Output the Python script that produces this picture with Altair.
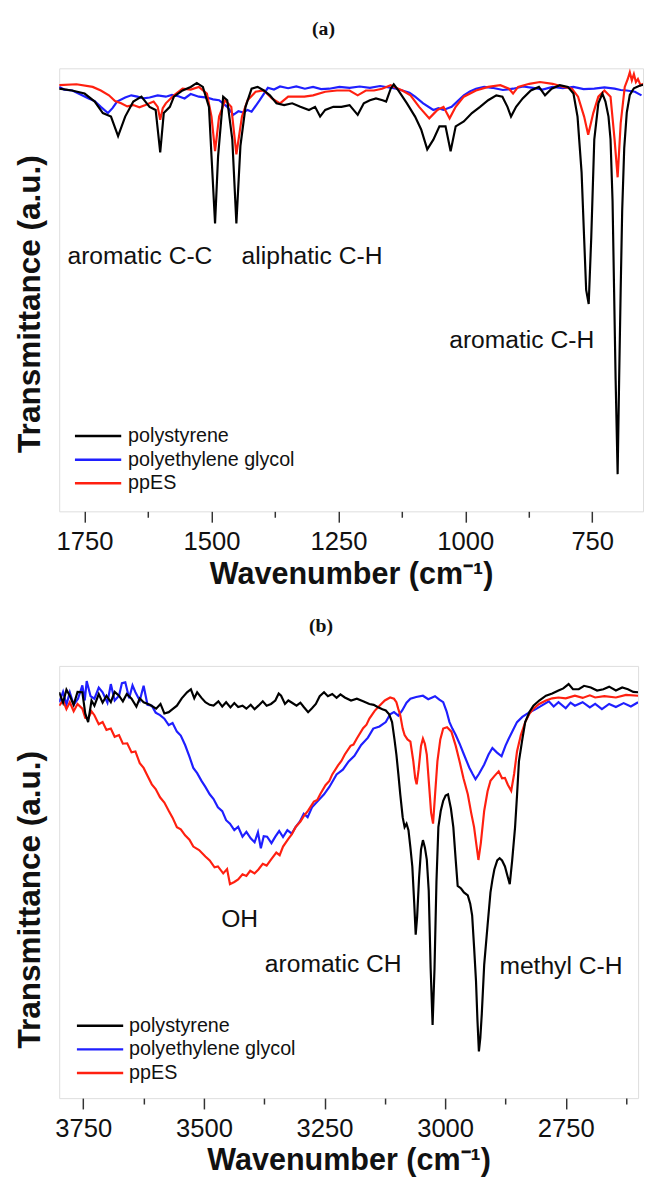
import altair as alt
import pandas as pd

SERIES = ["polystyrene", "polyethylene glycol", "ppES"]
COLORS = ["#000000", "#1f1fff", "#ff2010"]

# ---------------- panel (a): 1800-650 cm-1 ----------------
a_ps_wn = [1800, 1775, 1750, 1730, 1714, 1698, 1684, 1670, 1654, 1638, 1622, 1610, 1601, 1594, 1582,
           1574, 1557, 1541, 1529, 1517, 1505, 1500, 1493, 1487, 1477, 1469, 1459, 1451, 1443, 1433,
           1421, 1409, 1397, 1385, 1372, 1357, 1341, 1325, 1308, 1296, 1286, 1276, 1260, 1244, 1228,
           1212, 1200, 1188, 1176, 1163, 1156, 1147, 1141, 1132, 1115, 1099, 1087, 1075, 1063, 1051,
           1039, 1029, 1019, 1003, 987, 971, 955, 939, 927, 917, 910, 900, 887, 871, 855, 843, 830,
           814, 798, 787, 779, 771, 766, 762, 757, 752, 746, 738, 730, 724, 718, 714, 710, 707, 704,
           700, 697, 694, 691, 687, 682, 676, 668, 658, 650]
a_ps_t = [95.4, 95.0, 94.3, 92.5, 89.9, 89.1, 84.7, 89.1, 92.5, 93.6, 91.3, 90.6, 81.0, 89.9, 91.3,
          93.6, 95.0, 95.8, 96.7, 95.8, 91.3, 80.2, 65.0, 80.2, 93.6, 92.8, 83.9, 65.0, 82.5, 91.3,
          95.4, 95.8, 95.0, 93.9, 92.1, 91.7, 92.1, 91.3, 90.6, 91.3, 89.1, 90.6, 91.3, 91.3, 91.7,
          89.5, 92.1, 92.8, 93.2, 92.8, 92.5, 95.4, 96.4, 95.0, 92.1, 89.1, 86.2, 81.7, 83.9, 86.9,
          86.9, 81.3, 86.9, 88.0, 89.9, 91.3, 92.8, 93.9, 93.6, 91.3, 89.1, 91.3, 93.2, 95.0, 95.8, 93.9, 95.4,
          96.2, 95.8, 94.3, 89.1, 76.5, 61.7, 50.0, 46.8, 61.7, 83.9, 92.1, 94.3, 92.5, 89.1, 84.0, 70.0, 50.0, 30.0,
          8.4, 30.0, 50.0, 68.0, 82.0, 90.0, 94.0, 95.5, 96.0, 96.3]

a_peg_wn = [1800, 1790, 1774, 1760, 1742, 1730, 1718, 1704, 1695, 1686, 1670, 1658, 1646, 1634, 1622, 1606,
            1590, 1578, 1565, 1553, 1541, 1525, 1509, 1497, 1485, 1469, 1457, 1447, 1437, 1429, 1421, 1405,
            1389, 1377, 1365, 1349, 1333, 1316, 1300, 1284, 1268, 1248, 1228, 1208, 1188, 1168, 1147, 1136,
            1124, 1110, 1099, 1083, 1063, 1053, 1043, 1027, 1015, 1003, 991, 979, 963, 947, 926, 906, 886,
            867, 848, 828, 808, 787, 767, 746, 726, 706, 694, 682, 666, 653]
a_peg_t = [95.8, 95.2, 95.0, 94.2, 93.2, 92.6, 91.3, 89.9, 91.0, 92.5, 93.4, 93.9, 93.6, 93.2, 93.4, 93.9,
           93.6, 94.0, 93.7, 93.2, 94.2, 93.6, 93.4, 93.0, 92.8, 91.3, 89.5, 90.3, 90.0, 90.6, 90.2, 92.8,
           95.6, 95.2, 95.9, 95.5, 95.9, 95.4, 95.8, 95.3, 95.4, 95.8, 95.6, 95.9, 95.6, 96.0, 95.6, 95.4,
           95.0, 94.5, 93.6, 92.1, 90.6, 91.0, 90.6, 91.3, 92.6, 93.9, 94.8, 95.4, 95.8, 95.6, 95.1, 95.4, 95.9,
           95.6, 95.2, 95.8, 95.5, 95.8, 95.3, 95.4, 95.7, 95.4, 95.1, 95.0, 94.7, 93.9]

a_pp_wn = [1800, 1766, 1734, 1718, 1702, 1690, 1678, 1666, 1654, 1642, 1630, 1614, 1606, 1601, 1596, 1590,
           1574, 1557, 1541, 1525, 1509, 1500, 1493, 1485, 1473, 1461, 1451, 1440, 1429, 1413, 1397, 1381,
           1365, 1349, 1333, 1317, 1300, 1276, 1253, 1228, 1212, 1196, 1180, 1164, 1147, 1140, 1124, 1108,
           1091, 1071, 1055, 1043, 1031, 1019, 1003, 979, 955, 931, 914, 906, 896, 874, 853, 828, 806, 790,
           778, 766, 758, 748, 738, 726, 714, 706, 700, 694, 686, 680, 676, 672, 668, 664, 660, 655, 650]
a_pp_t = [96.2, 96.4, 95.8, 95.0, 93.9, 92.6, 92.1, 91.4, 91.7, 91.2, 91.7, 92.5, 91.3, 88.4, 91.0, 92.1,
          93.9, 95.4, 95.2, 95.8, 94.3, 89.1, 81.3, 89.1, 92.8, 91.3, 80.6, 89.1, 92.8, 94.7, 95.0, 93.2,
          92.1, 93.6, 93.6, 93.6, 93.9, 94.7, 95.0, 95.0, 93.9, 95.0, 95.0, 95.4, 96.2, 95.8, 95.0, 93.9,
          91.3, 88.7, 90.6, 91.3, 88.7, 91.3, 93.6, 95.0, 95.8, 96.2, 95.4, 94.3, 95.8, 96.5, 96.9, 96.5, 95.8, 95.4,
          93.6, 89.1, 85.0, 89.9, 93.6, 95.0, 93.6, 83.9, 75.4, 87.6, 95.8, 97.6, 99.1, 97.3, 98.7, 96.9, 97.6, 96.2, 96.5]

a_ann_label = ["aromatic C-C", "aliphatic C-H", "aromatic C-H"]
a_ann_wn = [1641, 1302, 889]
a_ann_t = [57.6, 57.6, 38.7]

# ---------------- panel (b): 3800-2600 cm-1 ----------------
b_ps_wn = [3800, 3792, 3785, 3778, 3770, 3762, 3752, 3746, 3740, 3733, 3727, 3718, 3710, 3702, 3693, 3685,
           3676, 3668, 3660, 3650, 3640, 3633, 3625, 3612, 3599, 3590, 3582, 3573, 3565, 3556, 3546, 3535,
           3527, 3520, 3514, 3505, 3497, 3488, 3480, 3470, 3462, 3454, 3445, 3437, 3429, 3420, 3412, 3403,
           3395, 3387, 3378, 3370, 3361, 3352, 3345, 3340, 3332, 3325, 3319, 3308, 3300, 3293, 3284, 3276,
           3268, 3260, 3251, 3243, 3234, 3225, 3217, 3208, 3195, 3183, 3170, 3157, 3148, 3140, 3130, 3123,
           3116, 3110, 3105, 3101, 3097, 3093, 3088, 3084, 3080, 3076, 3072, 3068, 3064, 3061, 3058, 3054,
           3050, 3046, 3042, 3038, 3034, 3030, 3026, 3022, 3018, 3014, 3009, 3004, 2999, 2994, 2988, 2983,
           2978, 2974, 2967, 2961, 2953, 2948, 2944, 2940, 2936, 2933, 2930, 2927, 2924, 2919, 2912, 2906,
           2902, 2898, 2892, 2887, 2882, 2876, 2871, 2866, 2861, 2855, 2851, 2847, 2840, 2834, 2825, 2817,
           2805, 2791, 2778, 2765, 2755, 2744, 2735, 2723, 2712, 2698, 2685, 2672, 2660, 2646, 2633, 2621,
           2610, 2600]
b_ps_t = [93.9, 91.5, 94.5, 93.1, 91.0, 94.0, 93.9, 89.0, 87.0, 92.0, 90.8, 93.5, 91.5, 93.1, 91.6, 94.0,
          93.1, 91.8, 93.5, 92.4, 90.6, 92.5, 91.6, 91.0, 90.1, 91.2, 89.0, 89.3, 90.0, 90.8, 92.5, 93.9,
          94.6, 92.5, 93.9, 92.6, 91.6, 91.0, 90.8, 91.8, 90.6, 91.6, 90.4, 91.4, 90.5, 90.8, 90.1, 91.0,
          90.0, 90.8, 91.8, 90.8, 91.2, 92.0, 93.6, 93.1, 91.2, 92.0, 91.6, 90.8, 91.5, 90.5, 89.3, 90.2,
          91.2, 93.0, 93.9, 93.0, 93.5, 92.6, 93.4, 92.7, 92.0, 92.4, 91.8, 91.2, 91.0, 90.5, 90.0, 89.7,
          88.8, 87.0, 83.0, 79.5, 75.0, 70.3, 65.0, 62.7, 63.5, 62.0, 58.0, 53.6, 45.0, 37.8, 42.0, 51.0,
          57.5, 59.7, 58.0, 55.2, 48.0, 30.0, 16.9, 30.0, 50.0, 62.7, 66.5, 68.8, 70.0, 70.3, 67.0, 62.7,
          55.0, 49.1, 48.5, 47.6, 46.9, 45.0, 42.3, 35.0, 27.1, 18.0, 10.8, 14.0, 19.5, 30.9, 40.0, 47.6,
          50.5, 52.9, 55.0, 55.5, 55.0, 53.6, 51.5, 49.5, 55.0, 62.7, 70.0, 77.9, 83.0, 87.0, 89.4, 90.8,
          92.0, 93.1, 93.6, 94.3, 94.8, 95.8, 94.6, 94.6, 95.4, 95.0, 94.3, 94.6, 95.2, 94.3, 95.0, 94.6,
          94.0, 93.9]

b_peg_wn = [3800, 3792, 3785, 3778, 3770, 3761, 3752, 3747, 3743, 3735, 3727, 3718, 3710, 3700, 3693, 3685,
            3676, 3670, 3663, 3655, 3648, 3642, 3633, 3625, 3617, 3608, 3600, 3591, 3582, 3573, 3565, 3556,
            3548, 3539, 3530, 3522, 3514, 3505, 3497, 3488, 3480, 3471, 3462, 3454, 3446, 3437, 3429, 3420,
            3412, 3403, 3395, 3388, 3382, 3376, 3369, 3360, 3352, 3344, 3336, 3327, 3318, 3310, 3301, 3293,
            3285, 3276, 3265, 3251, 3240, 3225, 3212, 3200, 3188, 3174, 3160, 3149, 3136, 3123, 3114, 3106,
            3097, 3089, 3080, 3072, 3060, 3046, 3035, 3021, 3012, 3004, 2997, 2991, 2985, 2978, 2970, 2961,
            2950, 2943, 2937, 2930, 2919, 2910, 2902, 2893, 2883, 2875, 2868, 2860, 2851, 2840, 2825, 2812,
            2800, 2785, 2775, 2765, 2750, 2740, 2731, 2715, 2700, 2689, 2675, 2660, 2646, 2630, 2615, 2600]
b_peg_t = [91.6, 94.0, 91.0, 93.9, 91.0, 92.4, 95.5, 92.0, 96.5, 93.0, 92.4, 95.0, 93.9, 91.5, 95.8, 92.0,
           93.1, 96.0, 96.2, 92.5, 95.5, 93.9, 92.0, 95.4, 91.0, 90.8, 89.2, 88.6, 87.8, 86.3, 86.8, 84.8,
           83.9, 81.7, 79.0, 76.4, 75.2, 73.4, 72.0, 70.3, 69.2, 67.3, 66.4, 64.3, 63.5, 62.0, 62.8, 60.5,
           61.6, 60.1, 59.2, 61.5, 57.8, 60.6, 60.5, 59.0, 60.5, 61.8, 60.4, 62.0, 61.2, 62.7, 64.0, 65.8,
           65.0, 67.3, 68.6, 70.3, 72.0, 74.9, 76.0, 77.9, 79.2, 81.7, 83.4, 85.5, 86.0, 87.0, 88.8, 89.3,
           88.5, 89.7, 91.5, 92.4, 92.8, 93.1, 92.3, 93.0, 92.2, 91.6, 89.5, 87.0, 85.5, 84.0, 82.0, 79.5,
           76.5, 75.0, 73.8, 75.0, 77.2, 79.5, 81.0, 80.0, 79.1, 81.5, 83.2, 85.0, 87.0, 88.2, 89.3, 90.0,
           90.8, 91.8, 90.6, 91.6, 90.2, 91.5, 90.8, 91.6, 90.4, 91.2, 90.0, 91.2, 90.5, 91.4, 90.6, 91.6]

b_pp_wn = [3800, 3792, 3785, 3778, 3770, 3762, 3752, 3746, 3740, 3733, 3727, 3718, 3710, 3702, 3693, 3685,
           3676, 3668, 3659, 3650, 3642, 3633, 3625, 3617, 3608, 3600, 3591, 3582, 3573, 3565, 3556, 3548,
           3539, 3530, 3522, 3510, 3497, 3488, 3478, 3471, 3460, 3452, 3446, 3437, 3429, 3420, 3412, 3404,
           3395, 3387, 3378, 3370, 3361, 3350, 3343, 3336, 3325, 3318, 3310, 3300, 3292, 3284, 3272, 3265,
           3259, 3248, 3240, 3234, 3222, 3215, 3208, 3196, 3190, 3183, 3170, 3163, 3157, 3146, 3136, 3125,
           3114, 3106, 3101, 3097, 3093, 3088, 3084, 3078, 3072, 3066, 3062, 3059, 3055, 3050, 3046, 3042,
           3038, 3033, 3029, 3025, 3021, 3016, 3010, 3004, 2996, 2987, 2978, 2970, 2962, 2953, 2946, 2940,
           2935, 2931, 2926, 2919, 2912, 2906, 2898, 2889, 2882, 2876, 2870, 2863, 2857, 2851, 2843, 2834,
           2825, 2817, 2805, 2791, 2778, 2765, 2750, 2731, 2715, 2700, 2689, 2670, 2646, 2625, 2600]
b_pp_t = [90.8, 92.0, 90.0, 91.6, 89.5, 91.2, 90.1, 88.0, 87.8, 89.5, 88.6, 86.5, 87.0, 85.2, 85.5, 83.6,
          84.0, 82.0, 82.1, 80.0, 80.2, 77.5, 76.4, 74.6, 72.6, 71.5, 69.6, 68.4, 66.5, 64.9, 62.7, 62.2,
          60.8, 59.8, 58.2, 57.4, 55.9, 55.0, 53.4, 53.6, 52.0, 53.0, 49.5, 50.0, 50.6, 51.8, 51.4, 52.6,
          52.0, 52.9, 54.2, 53.8, 55.2, 56.8, 56.2, 58.2, 60.0, 61.0, 62.7, 64.0, 65.4, 66.5, 68.6, 69.0,
          70.3, 72.4, 73.4, 74.9, 77.0, 78.0, 79.5, 81.5, 81.8, 83.2, 85.6, 86.4, 87.8, 89.6, 90.8, 92.0,
          92.7, 92.4, 91.6, 90.0, 88.6, 85.5, 84.0, 83.0, 82.5, 78.0, 74.0, 72.6, 76.0, 81.5, 83.2, 82.0,
          79.5, 72.0, 66.0, 63.5, 70.0, 77.9, 83.0, 85.5, 85.8, 84.8, 81.5, 77.9, 74.0, 70.3, 66.0, 62.7,
          58.5, 55.1, 59.0, 66.5, 71.0, 73.4, 74.5, 75.6, 74.0, 74.1, 72.5, 71.1, 75.0, 80.2, 84.0, 87.0,
          89.0, 90.1, 91.2, 92.0, 92.5, 92.7, 92.5, 93.1, 92.6, 93.2, 92.7, 93.0, 92.7, 93.3, 93.1]

b_ann_label = ["OH", "aromatic CH", "methyl C-H"]
b_ann_wn = [3426, 3232, 2760]
b_ann_t = [41.4, 30.9, 30.5]

a_ticks = [1750, 1625, 1500, 1375, 1250, 1125, 1000, 875, 750]
b_ticks = [3750, 3625, 3500, 3375, 3250, 3125, 3000, 2875, 2750, 2625]


def long_df(parts):
    frames = []
    for name, wn, t in parts:
        frames.append(pd.DataFrame({"wn": wn, "t": t, "series": name}))
    return pd.concat(frames, ignore_index=True)


def panel(df, ann, domain, ticks, title, w, h, lx, ly, loff, ty):
    color = alt.Color(
        "series:N",
        scale=alt.Scale(domain=SERIES, range=COLORS),
        legend=alt.Legend(
            title=None, orient="none", legendX=lx, legendY=ly,
            symbolType="M-2.35,0H2.35", symbolSize=400, symbolStrokeWidth=2.5,
            labelFontSize=20, labelFont="Liberation Sans", labelColor="#111",
            labelOffset=loff, labelLimit=400, rowPadding=2, padding=0,
        ),
    )
    x = alt.X(
        "wn:Q",
        scale=alt.Scale(domain=domain, nice=False, zero=False),
        axis=alt.Axis(
            values=ticks, format="d",
            labelExpr="datum.value % 250 === 0 ? datum.label : ''",
            tickSize={"condition": {"test": "datum.value % 250 === 0", "value": 11}, "value": 6},
            labelFontSize=26, labelFont="Liberation Sans", labelColor="#111",
            labelPadding=7, labelOverlap=False, labelFlush=False,
            tickColor="#333", tickWidth=1.5, domain=False, grid=False,
            title="Wavenumber (cm\u207b\u00b9)", titleFont="Liberation Sans",
            titleFontSize=31, titleFontWeight="bold", titleColor="#111", titlePadding=5,
        ),
    )
    y = alt.Y(
        "t:Q",
        scale=alt.Scale(domain=[0, 100], nice=False, zero=False),
        axis=alt.Axis(
            labels=False, ticks=False, domain=False, grid=False,
            title="Transmittance (a.u.)", titleFont="Liberation Sans",
            titleFontSize=32, titleFontWeight="bold", titleColor="#111",
            titlePadding=13, titleY=ty,
        ),
    )
    layers = []
    for s in ["polyethylene glycol", "ppES", "polystyrene"]:
        layers.append(
            alt.Chart(df[df.series == s]).mark_line(strokeWidth=2.2, clip=True).encode(
                x=x, y=y, color=color
            )
        )
    text = alt.Chart(ann).mark_text(
        font="Liberation Sans", fontSize=25, align="center", baseline="middle", color="#111"
    ).encode(x=alt.X("wn:Q"), y=alt.Y("t:Q"), text="label:N")
    return alt.layer(*layers, text).properties(
        width=w, height=h,
        title=alt.TitleParams(
            title, font="Liberation Serif", fontSize=20, fontWeight="bold",
            anchor="middle", dx=-28, offset=30, color="#111",
        ),
    )


df_a = long_df([("polystyrene", a_ps_wn, a_ps_t),
                ("polyethylene glycol", a_peg_wn, a_peg_t),
                ("ppES", a_pp_wn, a_pp_t)])
df_b = long_df([("polystyrene", b_ps_wn, b_ps_t),
                ("polyethylene glycol", b_peg_wn, b_peg_t),
                ("ppES", b_pp_wn, b_pp_t)])
ann_a = pd.DataFrame({"label": a_ann_label, "wn": a_ann_wn, "t": a_ann_t})
ann_b = pd.DataFrame({"label": b_ann_label, "wn": b_ann_wn, "t": b_ann_t})

pa = panel(df_a, ann_a, [1800, 650], a_ticks, "(a)", 593, 450, 28, 362, 19, 239)
pb = panel(df_b, ann_b, [3800, 2600], b_ticks, "(b)", 588, 439, 30, 354, 18, 237)

chart = (
    alt.vconcat(pa, pb, spacing=26)
    .resolve_scale(color="independent")
    .resolve_legend(color="independent")
    .properties(padding={"left": 5, "top": 1, "right": 0, "bottom": 0})
    .configure_view(stroke="#333", strokeWidth=1.5)
    .configure(background="white")
)

chart.save("out.html", embed_options={"renderer": "svg", "actions": False})
